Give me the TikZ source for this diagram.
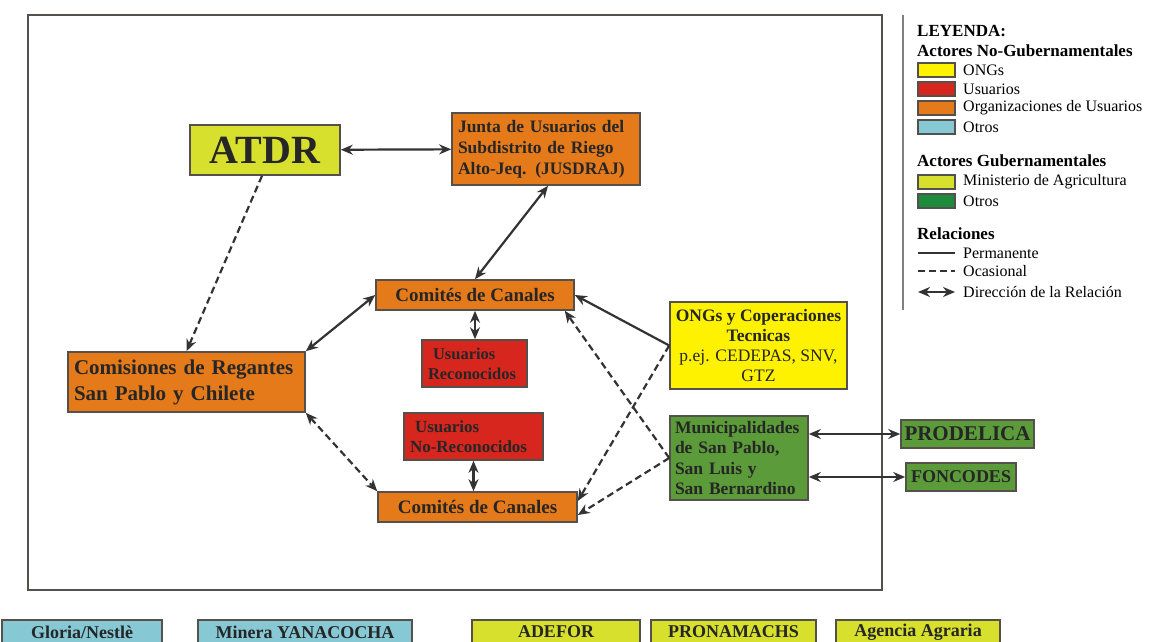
\documentclass[tikz,border=0pt]{standalone}
\usepackage{fontspec}
\setmainfont{Liberation Serif}
\usetikzlibrary{arrows.meta}

\definecolor{naranja}{RGB}{229,122,27}
\definecolor{rojo}{RGB}{215,38,30}
\definecolor{amarillo}{RGB}{255,242,0}
\definecolor{lima}{RGB}{216,224,46}
\definecolor{verde}{RGB}{91,155,58}
\definecolor{verdeosc}{RGB}{30,138,60}
\definecolor{celeste}{RGB}{134,201,213}
\definecolor{borde}{RGB}{85,80,75}

\tikzset{
  caja/.style={draw=borde, line width=1.6pt, inner sep=3pt, text=black!85},
  izq/.style={align=left, inner xsep=6pt},
  rel/.style={line width=2.2pt, draw=black!80, {Stealth[length=12pt,width=10pt]}-{Stealth[length=12pt,width=10pt]}},
  relto/.style={line width=2.2pt, draw=black!80, -{Stealth[length=12pt,width=10pt]}},
  ocas/.style={rel, dash pattern=on 7pt off 4pt},
  ocasto/.style={relto, dash pattern=on 7pt off 4pt},
  muestra/.style={draw=borde, line width=1.4pt},
  leyt/.style={anchor=west, inner sep=0pt, font=\fontsize{16}{18}\selectfont},
  leyb/.style={anchor=west, inner sep=0pt, font=\fontsize{17}{19}\selectfont\bfseries},
  abajo/.style={caja, inner ysep=1pt, minimum height=24pt, font=\fontsize{18}{19}\selectfont\bfseries},
}

\begin{document}
\begin{tikzpicture}[x=1pt, y=-1pt]
\useasboundingbox (0,0) rectangle (1157,642);

% marco
\draw[borde, line width=2.5pt] (28,15) rectangle (882,590);

% actores
\node[caja, fill=lima, minimum width=150pt, minimum height=50pt, font=\fontsize{40}{40}\selectfont\bfseries] (atdr) at (265,150) {ATDR};
\node[caja, izq, fill=naranja, text width=176pt, minimum height=72pt, font=\fontsize{17.5}{21}\selectfont\bfseries] (junta) at (546,149)
  {Junta de Usuarios del\\Subdistrito de Riego\\Alto-Jeq. (JUSDRAJ)};
\node[caja, fill=naranja, minimum width=198pt, minimum height=30pt, font=\fontsize{19}{21}\selectfont\bfseries] (comA) at (475,295) {Comités de Canales};
\node[caja, izq, fill=rojo, text width=93pt, minimum height=47pt, font=\fontsize{16.5}{20}\selectfont\bfseries] (usrec) at (474.5,363.5)
  {\hspace{5pt}Usuarios\\Reconocidos};
\node[caja, izq, fill=naranja, text width=225pt, minimum height=60pt, font=\fontsize{21}{26}\selectfont\bfseries] (comis) at (186.5,382)
  {Comisiones de Regantes\\San Pablo y Chilete};
\node[caja, izq, fill=rojo, text width=127pt, minimum height=47pt, font=\fontsize{17}{20}\selectfont\bfseries] (usnorec) at (473.5,436.5)
  {\hspace{5pt}Usuarios\\No-Reconocidos};
\node[caja, fill=naranja, minimum width=199pt, minimum height=30pt, font=\fontsize{19}{21}\selectfont\bfseries] (comB) at (477.5,507) {Comités de Canales};
\node[caja, fill=amarillo, minimum width=177pt, minimum height=87pt, align=center, inner xsep=2pt, font=\fontsize{17.5}{20}\selectfont\bfseries] (ongs) at (758.5,345.5)
  {ONGs y Coperaciones\\Tecnicas\\{\mdseries p.ej. CEDEPAS, SNV,}\\{\mdseries GTZ}};
\node[caja, izq, fill=verde, inner xsep=5pt, text width=128pt, minimum height=84pt, font=\fontsize{17.5}{20.5}\selectfont\bfseries] (muni) at (739,458)
  {Municipalidades\\de San Pablo,\\San Luis y\\San Bernardino};
\node[caja, fill=verde, minimum width=133pt, minimum height=28pt, font=\fontsize{21}{22}\selectfont\bfseries] (prodelica) at (967.5,434) {PRODELICA};
\node[caja, fill=verde, minimum width=110pt, minimum height=28pt, font=\fontsize{18}{20}\selectfont\bfseries] (foncodes) at (961,477) {FONCODES};

% fila inferior
\node[abajo, fill=celeste, minimum width=160pt] (gloria) at (82,632) {Gloria/Nestlè};
\node[abajo, fill=celeste, minimum width=214pt] (minera) at (305,632) {Minera YANACOCHA};
\node[abajo, fill=lima, minimum width=168pt] (adefor) at (556,632) {ADEFOR};
\node[abajo, fill=lima, minimum width=165pt] (pronamachs) at (733.5,632) {PRONAMACHS};
\node[abajo, fill=lima, minimum width=164pt] (agencia) at (918,632) {Agencia Agraria};

% relaciones
\draw[rel] (atdr) -- (junta);
\draw[ocasto] ([xshift=-3pt]atdr.south) -- (comis.north);
\draw[rel] ([xshift=2pt]junta.south) -- (comA.north);
\draw[rel] (comA.west) -- (comis.north east);
\draw[rel] (comA.south) -- (comA.south |- usrec.north);
\draw[ocas] (comis.south east) -- (comB.north west);
\draw[rel] (usnorec.south) -- (usnorec.south |- comB.north);
\draw[relto] (ongs.west) -- (comA.east);
\draw[ocasto] (ongs.west) -- ([yshift=6pt]comB.east);
\draw[ocasto] (muni.west) -- ([xshift=-10pt]comA.south east);
\draw[ocasto] (muni.west) -- ([yshift=-8pt]comB.east);
\draw[rel] (muni.east |- prodelica.west) -- (prodelica.west);
\draw[rel] (muni.east |- foncodes.west) -- (foncodes.west);

% leyenda
\draw[gray, line width=2.5pt] (903,15) -- (903,310);
\node[leyb] (ley) at (917,31) {LEYENDA:};
\node[leyb] (nogub) at (917,51) {Actores No-Gubernamentales};
\draw[muestra, fill=amarillo] (918,63) rectangle (955,77);
\node[leyt] at (963,70) {ONGs};
\draw[muestra, fill=rojo] (918,82) rectangle (955,96);
\node[leyt] at (963,89) {Usuarios};
\draw[muestra, fill=naranja] (918,101) rectangle (955,115);
\node[leyt] at (963,108) {Organizaciones de Usuarios};
\draw[muestra, fill=celeste] (918,120) rectangle (955,134);
\node[leyt] at (963,127) {Otros};
\node[leyb] (gub) at (917,161) {Actores Gubernamentales};
\draw[muestra, fill=lima] (918,175) rectangle (955,189);
\node[leyt] at (963,182) {Ministerio de Agricultura};
\draw[muestra, fill=verdeosc] (918,194) rectangle (955,208);
\node[leyt] at (963,201) {Otros};
\node[leyb] (rels) at (917,234) {Relaciones};
\draw[line width=2.2pt, black!80] (918,253) -- (955,253);
\node[leyt] at (963,253) {Permanente};
\draw[line width=2.2pt, black!80, dash pattern=on 7pt off 4pt] (918,271) -- (955,271);
\node[leyt] at (963,271) {Ocasional};
\draw[rel] (918,292) -- (955,292);
\node[leyt] at (963,292) {Dirección de la Relación};
\end{tikzpicture}
\end{document}
